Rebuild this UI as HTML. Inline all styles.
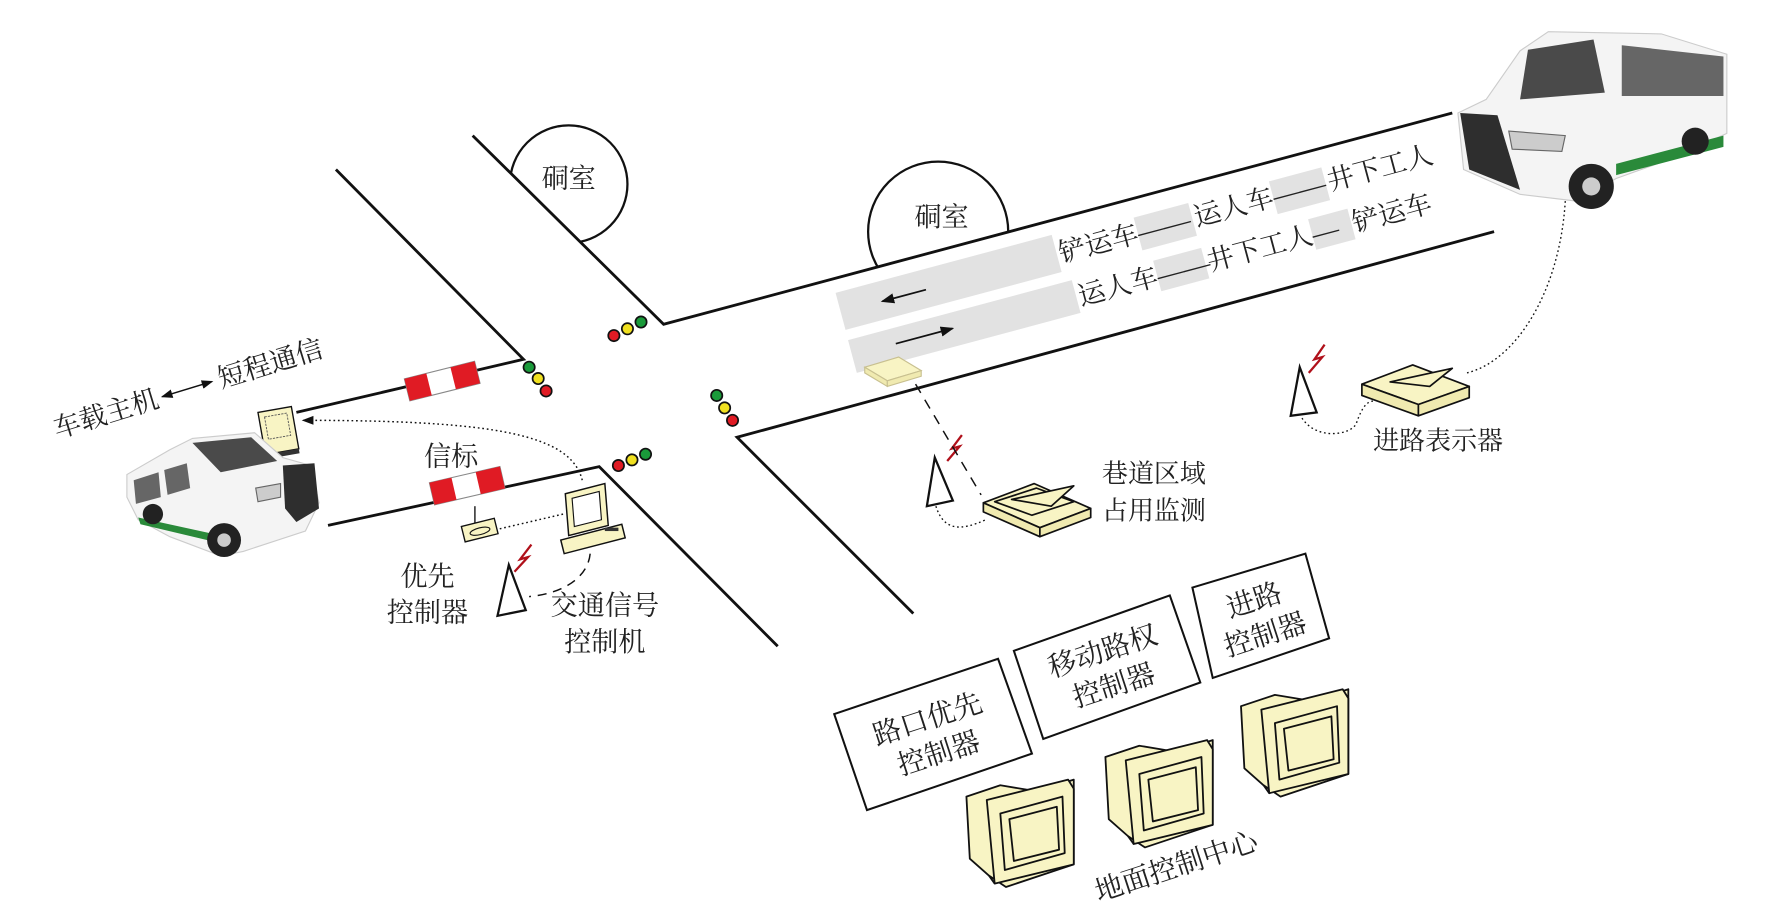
<!DOCTYPE html>
<html><head><meta charset="utf-8"><style>
html,body{margin:0;padding:0;background:#fff;}
svg{display:block;}
text{font-family:"Liberation Serif","Noto Serif CJK SC","Noto Sans CJK SC",serif;fill:#222;}
</style></head><body>
<svg width="1769" height="922" viewBox="0 0 1565 816" xmlns="http://www.w3.org/2000/svg">
<defs>
<marker id="ah" markerWidth="8" markerHeight="8" refX="7" refY="4" orient="auto"><path d="M0,1 L8,4 L0,7 z" fill="#111"/></marker>
<marker id="ahs" markerWidth="8" markerHeight="8" refX="1" refY="4" orient="auto"><path d="M8,1 L0,4 L8,7 z" fill="#111"/></marker>
</defs>
<rect width="1565" height="816" fill="#fff"/>

<circle cx="503" cy="163" r="52" fill="#fff" stroke="#111" stroke-width="2"/>
<circle cx="830" cy="205" r="62" fill="#fff" stroke="#111" stroke-width="2"/>
<polygon points="297,150 418,120 587,287 1290,98 1325,205 652,387 688,572 530,413 463,318" fill="#fff"/>
<text x="503" y="166" font-size="24" text-anchor="middle">硐室</text>
<text x="833" y="200" font-size="24" text-anchor="middle">硐室</text>

<g stroke="#111" stroke-width="2.5" fill="none">
<polyline points="297,150 463,318 262,365"/>
<polyline points="418,120 587,287 1285,100"/>
<polyline points="290,465 530,413 688,572"/>
<polyline points="1322,205 652,387 808,543"/>
</g>

<g transform="translate(748,292) rotate(-15)">
<rect x="0" y="-34" width="198" height="34" fill="#e2e2e2"/>
<line x1="78" y1="-16" x2="38" y2="-16" stroke="#111" stroke-width="1.5" marker-end="url(#ah)"/>
<text x="200" y="-8" font-size="24">铲运车</text>
<rect x="272" y="-30" width="50" height="30" fill="#e2e2e2"/>
<text x="272" y="-8" font-size="24">——</text>
<text x="324" y="-8" font-size="24">运人车</text>
<rect x="396" y="-30" width="48" height="30" fill="#e2e2e2"/>
<text x="396" y="-8" font-size="24">——</text>
<text x="446" y="-8" font-size="24">井下工人</text>
</g>
<g transform="translate(758,330) rotate(-15)">
<rect x="0" y="-30" width="205" height="30" fill="#e2e2e2"/>
<line x1="40" y1="-16" x2="92" y2="-16" stroke="#111" stroke-width="1.5" marker-end="url(#ah)"/>
<text x="207" y="-6" font-size="24">运人车</text>
<rect x="279" y="-28" width="44" height="28" fill="#e2e2e2"/>
<text x="279" y="-6" font-size="24">——</text>
<text x="325" y="-6" font-size="24">井下工人</text>
<rect x="421" y="-28" width="36" height="28" fill="#e2e2e2"/>
<text x="421" y="-6" font-size="24">—</text>
<text x="458" y="-6" font-size="24">铲运车</text>
</g>

<g stroke="#111" stroke-width="1.5">
<circle cx="543" cy="297" r="5" fill="#e01b24"/><circle cx="555" cy="291" r="5" fill="#f0e020"/><circle cx="567" cy="285" r="5" fill="#1a9a3a"/>
<circle cx="468" cy="325" r="5" fill="#1a9a3a"/><circle cx="476" cy="335" r="5" fill="#f0e020"/><circle cx="483" cy="346" r="5" fill="#e01b24"/>
<circle cx="634" cy="350" r="5" fill="#1a9a3a"/><circle cx="641" cy="361" r="5" fill="#f0e020"/><circle cx="648" cy="372" r="5" fill="#e01b24"/>
<circle cx="547" cy="412" r="5" fill="#e01b24"/><circle cx="559" cy="407" r="5" fill="#f0e020"/><circle cx="571" cy="402" r="5" fill="#1a9a3a"/>
</g>

<g transform="translate(360,345) rotate(-14)">
<rect x="0" y="-10" width="64" height="20" fill="#fff" stroke="#888"/>
<rect x="0" y="-10" width="20" height="20" fill="#e01b24"/><rect x="42" y="-10" width="22" height="20" fill="#e01b24"/>
</g>
<g transform="translate(382,437) rotate(-13)">
<rect x="0" y="-10" width="64" height="20" fill="#fff" stroke="#888"/>
<rect x="0" y="-10" width="20" height="20" fill="#e01b24"/><rect x="42" y="-10" width="22" height="20" fill="#e01b24"/>
</g>

<g transform="translate(50,388) rotate(-17)">
<text x="0" y="0" font-size="24">车载主机</text>
<line x1="100" y1="-8" x2="146" y2="-8" stroke="#111" stroke-width="1.3" marker-start="url(#ahs)" marker-end="url(#ah)"/>
<text x="152" y="0" font-size="24">短程通信</text>
</g>
<g transform="translate(228,365) rotate(-10)">
<rect x="0" y="0" width="30" height="38" fill="#f8f4c4" stroke="#111" stroke-width="1.2"/>
<rect x="5" y="5" width="20" height="20" fill="none" stroke="#555" stroke-width="0.8" stroke-dasharray="2,1"/>
<rect x="0" y="38" width="30" height="4" fill="#333"/>
</g>
<path d="M515,425 C505,385 440,372 268,372" fill="none" stroke="#111" stroke-width="1.3" stroke-dasharray="1.5,2.5" marker-end="url(#ah)"/>

<!-- left van (front faces right) -->
<g>
<path d="M112,420 L150,398 L170,388 L225,383 L250,405 L275,412 L282,445 L270,470 L215,488 L195,492 L150,475 L122,460 L112,440 Z" fill="#f4f4f4" stroke="#ccc"/>
<path d="M170,392 L222,387 L245,408 L195,418 Z" fill="#4a4a4a"/>
<path d="M118,425 L140,418 L142,440 L120,446 Z" fill="#666"/>
<path d="M145,416 L165,410 L168,432 L148,438 Z" fill="#666"/>
<path d="M122,458 L200,475 L200,482 L124,464 Z" fill="#2a8a3a"/>
<path d="M250,412 L278,410 L282,450 L262,462 L252,450 Z" fill="#2e2e2e"/>
<path d="M226,432 L248,428 L248,440 L228,444 Z" fill="#ccc" stroke="#666"/>
<circle cx="198" cy="478" r="15" fill="#222"/><circle cx="198" cy="478" r="6" fill="#ccc"/>
<circle cx="135" cy="455" r="9" fill="#222"/>
</g>
<!-- right van (front faces left) -->
<g>
<path d="M1290,100 L1315,88 L1345,45 L1370,28 L1470,30 L1528,48 L1528,118 L1480,140 L1430,158 L1395,178 L1345,172 L1295,150 Z" fill="#f4f4f4" stroke="#ccc"/>
<path d="M1352,44 L1410,35 L1420,82 L1345,88 Z" fill="#4a4a4a"/>
<path d="M1435,40 L1525,50 L1525,85 L1435,85 Z" fill="#666"/>
<path d="M1430,145 L1525,120 L1525,130 L1430,155 Z" fill="#2a8a3a"/>
<path d="M1292,100 L1325,102 L1345,168 L1300,150 Z" fill="#2e2e2e"/>
<path d="M1335,116 L1385,120 L1382,134 L1338,132 Z" fill="#ccc" stroke="#666"/>
<circle cx="1408" cy="165" r="20" fill="#222"/><circle cx="1408" cy="165" r="8" fill="#ccc"/>
<circle cx="1500" cy="125" r="12" fill="#222"/>
</g>
<path d="M1385,178 C1380,260 1340,320 1298,330" fill="none" stroke="#111" stroke-width="1.2" stroke-dasharray="1.5,2.5"/>

<text x="375" y="412" font-size="24">信标</text>
<line x1="420" y1="448" x2="420" y2="466" stroke="#111" stroke-width="1.2"/>
<g transform="translate(408,466) rotate(-14)">
<rect x="0" y="0" width="30" height="14" fill="#f8f4c4" stroke="#111" stroke-width="1.2"/>
<ellipse cx="15" cy="8" rx="9" ry="3" fill="none" stroke="#111"/>
</g>
<line x1="442" y1="468" x2="498" y2="455" stroke="#111" stroke-width="1.3" stroke-dasharray="1.5,2.5"/>
<g>
<polygon points="500,437 535,428 538,465 503,474" fill="#f8f4c4" stroke="#111" stroke-width="1.3"/>
<polygon points="506,441 530,435 532,460 508,466" fill="#fff" stroke="#111"/>
<polygon points="496,478 550,464 553,476 499,490" fill="#f8f4c4" stroke="#111" stroke-width="1.3"/>
<rect x="535" y="467" width="12" height="3" fill="#333"/>
</g>
<path d="M522,490 C520,510 500,525 468,528" fill="none" stroke="#111" stroke-width="1.3" stroke-dasharray="8,6"/>
<g fill="#fff" stroke="#111" stroke-width="2">
<polygon points="450,500 465,540 440,545"/>
<polygon points="827,405 843,443 820,448"/>
<polygon points="1150,325 1165,365 1142,368"/>
</g>
<g fill="none" stroke="#b0101a" stroke-width="2">
<polyline points="470,482 460,495 467,493 455,506"/>
<polyline points="851,385 842,397 849,395 838,408"/>
<polyline points="1172,305 1163,318 1170,316 1158,330"/>
</g>
<text x="378" y="518" font-size="24" text-anchor="middle">优先</text>
<text x="378" y="550" font-size="24" text-anchor="middle">控制器</text>
<text x="535" y="544" font-size="24" text-anchor="middle">交通信号</text>
<text x="535" y="576" font-size="24" text-anchor="middle">控制机</text>

<g>
<polygon points="765,325 795,316 815,328 785,337" fill="#f8f4c4" stroke="#c8c090"/>
<polygon points="765,325 785,337 785,342 765,330" fill="#f0eab0" stroke="#c8c090"/>
<polygon points="785,337 815,328 815,333 785,342" fill="#f0eab0" stroke="#c8c090"/>
</g>
<line x1="810" y1="340" x2="868" y2="438" stroke="#111" stroke-width="1.3" stroke-dasharray="9,7"/>

<g stroke="#111" stroke-width="1.5" stroke-linejoin="round">
<polygon points="870,445 915,428 965,450 920,467" fill="#f8f4c4"/>
<polygon points="870,445 920,467 920,475 870,453" fill="#f0eab0"/>
<polygon points="920,467 965,450 965,458 920,475" fill="#f0eab0"/>
<polygon points="880,444 917,432 950,444 913,456" fill="none"/>
<polygon points="895,442 950,430 930,448" fill="#f8f4c4"/>
</g>
<path d="M828,448 C835,470 850,470 872,460" fill="none" stroke="#111" stroke-width="1.2" stroke-dasharray="1.5,2.5"/>
<text x="975" y="427" font-size="23">巷道区域</text>
<text x="975" y="460" font-size="23">占用监测</text>

<g stroke="#111" stroke-width="1.5" stroke-linejoin="round">
<polygon points="1205,340 1250,323 1300,342 1255,358" fill="#f8f4c4"/>
<polygon points="1205,340 1255,358 1255,368 1205,350" fill="#f0eab0"/>
<polygon points="1255,358 1300,342 1300,352 1255,368" fill="#f0eab0"/>
<polygon points="1230,338 1285,326 1265,342" fill="#f8f4c4"/>
</g>
<path d="M1152,370 C1165,390 1195,385 1200,375 C1205,360 1210,355 1215,355" fill="none" stroke="#111" stroke-width="1.2" stroke-dasharray="1.5,2.5"/>
<text x="1215" y="398" font-size="23">进路表示器</text>

<g fill="#fff" stroke="#111" stroke-width="1.8">
<polygon points="738,632 883,583 913,667 767,717"/>
<polygon points="897,576 1035,527 1062,604 923,654"/>
<polygon points="1055,520 1155,490 1176,565 1073,600"/>
</g>
<g font-size="25">
<g transform="translate(825,650) rotate(-18)"><text x="0" y="-6" text-anchor="middle">路口优先</text><text x="0" y="26" text-anchor="middle">控制器</text></g>
<g transform="translate(980,590) rotate(-18)"><text x="0" y="-6" text-anchor="middle">移动路权</text><text x="0" y="26" text-anchor="middle">控制器</text></g>
<g transform="translate(1114,545) rotate(-18)"><text x="0" y="-6" text-anchor="middle">进路</text><text x="0" y="26" text-anchor="middle">控制器</text></g>
</g>

<g stroke="#111" stroke-width="1.6" stroke-linejoin="round" fill="#f8f4c4">
<g transform="translate(855,690)">
<polygon points="0,15 30,5 60,10 70,8 95,0 95,8 95,75 35,95 20,85 3,70"/>
<polygon points="18,18 90,0 95,8 95,75 25,92"/>
<polygon points="30,30 85,15 87,65 34,80"/>
<polygon points="38,35 80,24 82,62 42,72"/>
<line x1="20" y1="85" x2="25" y2="92"/>
</g>
<g transform="translate(978,655)">
<polygon points="0,15 30,5 60,10 70,8 95,0 95,8 95,75 35,95 20,85 3,70"/>
<polygon points="18,18 90,0 95,8 95,75 25,92"/>
<polygon points="30,30 85,15 87,65 34,80"/>
<polygon points="38,35 80,24 82,62 42,72"/>
<line x1="20" y1="85" x2="25" y2="92"/>
</g>
<g transform="translate(1098,610)">
<polygon points="0,15 30,5 60,10 70,8 95,0 95,8 95,75 35,95 20,85 3,70"/>
<polygon points="18,18 90,0 95,8 95,75 25,92"/>
<polygon points="30,30 85,15 87,65 34,80"/>
<polygon points="38,35 80,24 82,62 42,72"/>
<line x1="20" y1="85" x2="25" y2="92"/>
</g>
</g>
<text transform="translate(972,798) rotate(-18)" font-size="25">地面控制中心</text>
</svg>
</body></html>
